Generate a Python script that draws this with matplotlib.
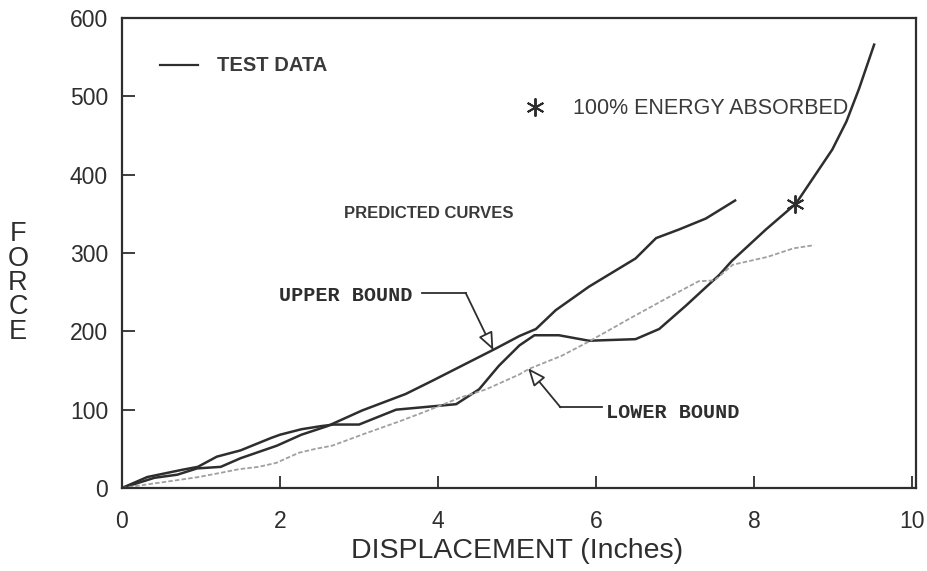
import matplotlib
matplotlib.use("Agg")
import matplotlib.pyplot as plt

# ---- data ----
test_x = [0, 0.32, 0.75, 0.96, 1.2, 1.5, 1.89, 2.0, 2.27, 2.52, 2.68, 3.0, 3.47,
          4.23, 4.52, 4.77, 5.03, 5.22, 5.53, 5.91, 6.5, 6.8, 7.14, 7.56, 7.72,
          8.15, 8.53, 8.99, 9.17, 9.33, 9.52]
test_y = [0, 14, 23, 27, 40, 48, 64, 68, 75, 79, 81, 81, 100,
          107, 126, 156, 182, 195, 195, 188, 190, 203, 233, 272, 290,
          330, 363, 432, 468, 510, 566]

upper_x = [0, 0.41, 0.7, 0.95, 1.25, 1.5, 1.96, 2.27, 2.6, 3.04, 3.59, 3.93,
           4.73, 5.03, 5.24, 5.49, 5.91, 6.5, 6.76, 7.05, 7.39, 7.76]
upper_y = [0, 13, 17, 25, 27, 38, 54, 68, 79, 99, 120, 137,
           178, 194, 203, 227, 257, 293, 319, 330, 344, 367]

lower_x = [0, 0.56, 0.97, 1.23, 1.48, 1.73, 1.95, 2.24, 2.45, 2.66, 3.09, 3.51,
           3.85, 4.27, 4.61, 5.03, 5.15, 5.57, 5.91, 6.42, 6.89, 7.3, 7.5,
           7.73, 8.17, 8.5, 8.76]
lower_y = [0, 8, 14, 19, 24, 27, 32, 45, 50, 54, 70, 85,
           98, 115, 126, 145, 152, 169, 187, 216, 242, 264, 265,
           285, 295, 306, 310]

energy_x = [8.52]
energy_y = [362]

x_ticks = [0, 2, 4, 6, 8, 10]
y_ticks = [0, 100, 200, 300, 400, 500, 600]

INK = "#2e2e2e"
SANS = ["Liberation Sans", "DejaVu Sans"]
MONO = ["Liberation Mono", "DejaVu Sans Mono"]

fig = plt.figure(figsize=(9.28, 5.71), dpi=100)
ax = fig.add_axes([122 / 928, 1 - 488 / 571, (916 - 122) / 928, (488 - 18) / 571])

ax.plot(test_x, test_y, color=INK, lw=1.8, solid_joinstyle="round")
ax.plot(upper_x, upper_y, color=INK, lw=1.8, solid_joinstyle="round")
ax.plot(lower_x, lower_y, color="#a0a0a0", lw=1.3, ls=(0, (2.5, 1.2)))
ax.plot(energy_x, energy_y, marker=(6, 2, 0), ms=13, mew=1.4, color=INK, ls="none")

ax.set_xlim(0, 10.05)
ax.set_ylim(0, 600)
ax.set_xticks(x_ticks)
ax.set_yticks(y_ticks)
ax.tick_params(axis="x", direction="in", length=9, width=1.3, pad=16,
               labelsize=16.5, colors=INK)
ax.tick_params(axis="y", direction="in", length=9, width=1.3, pad=10,
               labelsize=16.5, colors=INK)
for lab in ax.get_xticklabels() + ax.get_yticklabels():
    lab.set_family(SANS)
for s in ax.spines.values():
    s.set_color(INK)
    s.set_linewidth(1.6)

# legend-like annotations
ax.plot([0.48, 0.96], [540, 540], color=INK, lw=1.6)
ax.text(1.2, 539, "TEST DATA", family=SANS, fontsize=14.5, fontweight="bold",
        color="#3a3a3a", va="center", ha="left")
ax.plot([5.23], [487], marker=(6, 2, 0), ms=13, mew=1.4, color=INK, ls="none")
ax.text(5.71, 484, "100% ENERGY ABSORBED", family=SANS, fontsize=15.5,
        color="#3a3a3a", va="center", ha="left")
ax.text(2.81, 351, "PREDICTED CURVES", family=SANS, fontsize=12,
        fontweight="bold", color="#3a3a3a", va="center", ha="left")

# upper bound callout
ax.text(3.67, 246, "UPPER BOUND", family=MONO, fontsize=14.5, fontweight="bold",
        color=INK, va="center", ha="right")
ax.plot([3.80, 4.35], [249, 249], color=INK, lw=1.3)
ax.annotate("", xy=(4.70, 176), xytext=(4.35, 249),
            arrowprops=dict(arrowstyle="-|>,head_length=0.6,head_width=0.25",
                            fc="white", ec=INK, lw=1.3,
                            mutation_scale=18, shrinkA=0, shrinkB=0))

# lower bound callout
ax.text(6.13, 97, "LOWER BOUND", family=MONO, fontsize=14.5, fontweight="bold",
        color=INK, va="center", ha="left")
ax.plot([5.55, 6.07], [103, 103], color=INK, lw=1.3)
ax.annotate("", xy=(5.14, 153), xytext=(5.55, 103),
            arrowprops=dict(arrowstyle="-|>,head_length=0.6,head_width=0.25",
                            fc="white", ec=INK, lw=1.3,
                            mutation_scale=18, shrinkA=0, shrinkB=0))

# axis labels
fig.text(517 / 928, 1 - 551 / 571, "DISPLACEMENT (Inches)", family=SANS,
         fontsize=20.5, color=INK, ha="center", va="center")
fig.text(18 / 928, 1 - 283 / 571, "F\nO\nR\nC\nE", family=SANS, fontsize=19.5,
         color=INK, ha="center", va="center", multialignment="center",
         linespacing=0.92)

fig.savefig("out.png", dpi=100)
